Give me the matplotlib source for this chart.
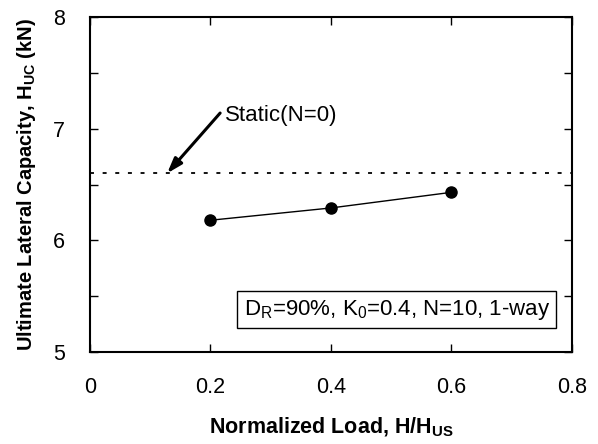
import matplotlib
matplotlib.use("Agg")
import matplotlib.pyplot as plt
from matplotlib.ticker import MultipleLocator

plt.rcParams['font.family'] = ['Liberation Sans', 'DejaVu Sans']
plt.rcParams['mathtext.fontset'] = 'custom'
plt.rcParams['mathtext.rm'] = 'Liberation Sans'
plt.rcParams['mathtext.it'] = 'Liberation Sans'
plt.rcParams['mathtext.bf'] = 'Liberation Sans:bold'

load = [0.2, 0.4, 0.6]
capacity = [6.18, 6.29, 6.43]
static_capacity = 6.6
xticks = [0, 0.2, 0.4, 0.6, 0.8]
xticklabels = ['0', '0.2', '0.4', '0.6', '0.8']
yticks = [5, 6, 7, 8]

fig = plt.figure(figsize=(5.98, 4.44), dpi=100)
ax = fig.add_axes([0.1505, 0.2072, 0.806, 0.7545])

ax.axhline(static_capacity, color='black', linestyle=(0, (2.2, 4.8)), linewidth=1.3)
ax.plot(load, capacity, color='black', linewidth=1.0, marker='o', markersize=8)

ax.set_xlim(0, 0.8)
ax.set_ylim(5, 8)
ax.set_xticks(xticks)
ax.set_xticklabels(xticklabels)
ax.set_yticks(yticks)
ax.yaxis.set_minor_locator(MultipleLocator(0.5))

ax.tick_params(axis='both', which='both', direction='in', top=True, right=True,
               labelsize=15.5, width=1, length=6)
ax.tick_params(axis='x', pad=18)
ax.tick_params(axis='y', pad=18)
for s in ax.spines.values():
    s.set_linewidth(1.5)

ax.set_xlabel('Normalized Load, H/H$_{\\mathbf{US}}$', fontsize=15.5, fontweight='bold', labelpad=13)
ax.set_ylabel('Ultimate Lateral Capacity, H$_{\\mathbf{UC}}$ (kN)', fontsize=14.5, fontweight='bold', labelpad=11)

ax.annotate('', xy=(0.128, 6.6), xytext=(0.216, 7.14),
            arrowprops=dict(arrowstyle='-|>,head_length=0.9,head_width=0.3', color='black', lw=2.2,
                            shrinkA=0, shrinkB=0))
ax.text(0.224, 7.12, 'Static(N=0)', fontsize=16, va='center', ha='left')

ax.text(0.509, 5.38, 'D$_\\mathrm{R}$=90%, K$_0$=0.4, N=10, 1-way', fontsize=16,
        ha='center', va='center',
        bbox=dict(boxstyle='square,pad=0.3', facecolor='white', edgecolor='black', linewidth=1))

fig.savefig('out.png', dpi=100)
